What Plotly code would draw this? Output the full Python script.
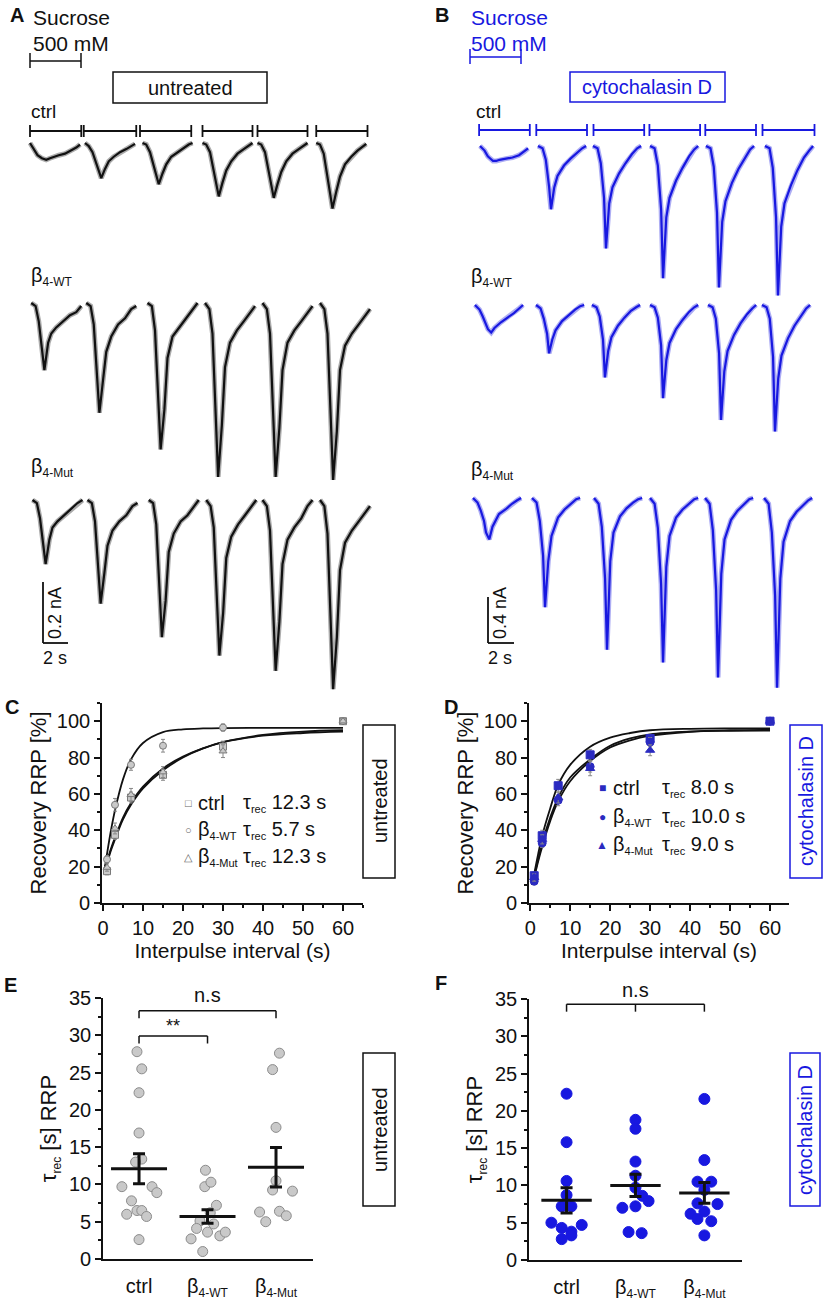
import plotly.graph_objects as go

W, H = 824, 1300
FONT = "Liberation Sans, Arial, sans-serif"
BLACK = "#111111"
BLUE = "#1818e0"
DBLUE = "#2a2ac0"
GRAYF = "#c9c9c9"
GRAYL = "#7a7a7a"

# ---------------------------------------------------------------- data
# Panel A (untreated): sample times inside a sweep (s) and currents (nA)
a_t_ctrl = [0, 0.3, 0.6, 0.95, 1.3, 1.6, 1.9, 2.3, 2.8, 3.3, 3.7, 4.0]
a_t_beta = [0, 0.35, 0.6, 0.85, 1.05, 1.35, 1.6, 2.0, 2.55, 3.1, 3.6, 4.0]
a_start_ctrl = [0.0, 4.4, 9.0, 13.8, 18.2, 22.9]
a_start_wt = [0.1, 4.5, 9.4, 14.0, 18.6, 23.2]
a_start_mut = [0.2, 4.6, 9.5, 14.1, 18.6, 23.2]
a_ctrl = [
    [0.00, -0.02, -0.04, -0.05, -0.055, -0.05, -0.045, -0.04, -0.035, -0.025, -0.015, -0.005],
    [0.00, -0.01, -0.03, -0.07, -0.115, -0.085, -0.06, -0.045, -0.03, -0.02, -0.01, -0.003],
    [0.00, -0.005, -0.03, -0.08, -0.135, -0.10, -0.07, -0.045, -0.03, -0.015, -0.005, 0.00],
    [0.00, -0.005, -0.03, -0.10, -0.175, -0.13, -0.09, -0.06, -0.035, -0.02, -0.01, 0.00],
    [0.00, -0.005, -0.03, -0.10, -0.18, -0.135, -0.095, -0.06, -0.035, -0.02, -0.01, 0.00],
    [0.00, -0.005, -0.035, -0.12, -0.215, -0.16, -0.11, -0.07, -0.045, -0.025, -0.012, -0.003],
]
a_wt = [
    [0.00, -0.01, -0.06, -0.14, -0.22, -0.13, -0.10, -0.08, -0.06, -0.04, -0.03, -0.01],
    [0.00, -0.01, -0.07, -0.22, -0.36, -0.25, -0.16, -0.11, -0.07, -0.05, -0.02, -0.01],
    [0.00, -0.01, -0.09, -0.29, -0.48, -0.35, -0.18, -0.11, -0.08, -0.05, -0.02, 0.00],
    [0.00, -0.02, -0.10, -0.34, -0.57, -0.40, -0.21, -0.13, -0.09, -0.06, -0.03, -0.01],
    [0.00, -0.02, -0.10, -0.34, -0.57, -0.41, -0.22, -0.13, -0.09, -0.06, -0.03, -0.01],
    [0.00, -0.02, -0.10, -0.35, -0.58, -0.42, -0.22, -0.14, -0.10, -0.07, -0.04, -0.02],
]
a_mut = [
    [0.00, -0.01, -0.06, -0.14, -0.21, -0.13, -0.09, -0.07, -0.05, -0.03, -0.01, 0.00],
    [0.00, -0.01, -0.07, -0.21, -0.34, -0.24, -0.15, -0.10, -0.07, -0.05, -0.02, -0.01],
    [0.00, -0.01, -0.08, -0.27, -0.45, -0.33, -0.17, -0.11, -0.07, -0.05, -0.02, 0.00],
    [0.00, -0.02, -0.09, -0.31, -0.51, -0.37, -0.19, -0.12, -0.08, -0.05, -0.02, 0.00],
    [0.00, -0.02, -0.10, -0.34, -0.56, -0.40, -0.21, -0.13, -0.09, -0.06, -0.02, 0.00],
    [0.00, -0.02, -0.11, -0.37, -0.62, -0.45, -0.23, -0.14, -0.10, -0.07, -0.04, -0.02],
]
a_suc_on = [0.0, 4.3, 8.8, 13.8, 18.2, 22.9]
a_suc_off = [4.1, 8.5, 12.9, 17.8, 22.2, 27.0]

# Panel B (cytochalasin D)
b_t = [0, 0.35, 0.6, 0.85, 1.0, 1.25, 1.5, 2.0, 2.5, 3.0, 3.4, 3.7]
b_start_ctrl = [0.77, 5.23, 9.46, 13.85, 18.15, 22.69]
b_start_wt = [0.38, 5.08, 9.38, 13.85, 18.31, 22.46]
b_start_mut = [0.23, 4.77, 9.54, 13.85, 18.08, 22.62]
b_ctrl = [
    [0.00, -0.04, -0.09, -0.12, -0.13, -0.13, -0.12, -0.11, -0.10, -0.08, -0.05, -0.02],
    [0.00, -0.02, -0.12, -0.35, -0.55, -0.36, -0.26, -0.17, -0.11, -0.06, -0.02, 0.00],
    [0.00, -0.02, -0.15, -0.45, -0.89, -0.50, -0.36, -0.24, -0.15, -0.07, -0.02, 0.00],
    [0.00, -0.02, -0.17, -0.55, -1.15, -0.62, -0.45, -0.30, -0.19, -0.09, -0.03, 0.00],
    [0.00, -0.02, -0.18, -0.58, -1.23, -0.66, -0.48, -0.32, -0.20, -0.10, -0.03, 0.00],
    [0.00, -0.02, -0.19, -0.62, -1.30, -0.70, -0.50, -0.34, -0.21, -0.10, -0.04, 0.00],
]
b_wt = [
    [0.00, -0.04, -0.10, -0.17, -0.21, -0.24, -0.20, -0.15, -0.11, -0.07, -0.03, 0.00],
    [0.00, -0.03, -0.12, -0.25, -0.42, -0.30, -0.22, -0.14, -0.09, -0.04, -0.01, 0.00],
    [0.00, -0.02, -0.10, -0.30, -0.63, -0.40, -0.28, -0.18, -0.11, -0.05, -0.02, 0.00],
    [0.00, -0.02, -0.11, -0.35, -0.81, -0.48, -0.33, -0.21, -0.13, -0.06, -0.02, 0.00],
    [0.00, -0.02, -0.12, -0.42, -1.00, -0.58, -0.40, -0.26, -0.16, -0.08, -0.03, 0.00],
    [0.00, -0.02, -0.12, -0.45, -1.10, -0.64, -0.44, -0.29, -0.18, -0.09, -0.03, 0.00],
]
b_mut = [
    [0.00, -0.04, -0.11, -0.20, -0.30, -0.36, -0.25, -0.14, -0.10, -0.05, -0.02, 0.00],
    [0.00, -0.04, -0.20, -0.50, -0.95, -0.55, -0.33, -0.17, -0.10, -0.05, -0.01, 0.00],
    [0.00, -0.05, -0.25, -0.70, -1.32, -0.55, -0.30, -0.16, -0.09, -0.04, -0.01, 0.00],
    [0.00, -0.05, -0.26, -0.75, -1.43, -0.60, -0.33, -0.17, -0.10, -0.05, -0.01, 0.00],
    [0.00, -0.05, -0.28, -0.80, -1.56, -0.66, -0.36, -0.19, -0.11, -0.05, -0.01, 0.00],
    [0.00, -0.05, -0.30, -0.85, -1.65, -0.70, -0.38, -0.20, -0.12, -0.06, -0.02, 0.00],
]
b_suc_on = [0.7, 5.1, 9.5, 13.8, 18.1, 22.5]
b_suc_off = [4.6, 9.0, 13.4, 17.7, 22.0, 26.5]

scale_a_nA, scale_b_nA, scale_s = 0.2, 0.4, 2.0

# Panel C / D : recovery of RRP (%)
ipi = [1, 3, 7, 15, 30, 60]
c_ctrl = [17.5, 37.5, 58, 70.5, 86, 100]
c_ctrl_err = [2, 2.5, 3, 3, 3, 0.8]
c_wt = [24, 54, 76, 86.5, 96.5, 100]
c_wt_err = [2, 3.5, 3, 3.5, 2, 0.8]
c_mut = [19.5, 41, 59.5, 72, 83.5, 100]
c_mut_err = [2, 3, 3.5, 3, 3.5, 0.8]
d_ctrl = [15, 37, 64.5, 81.5, 90.5, 100]
d_ctrl_err = [2, 3, 3.5, 3, 2, 0.8]
d_wt = [12, 33, 56.5, 75, 88.5, 100]
d_wt_err = [2, 2.5, 3, 3, 2.5, 0.8]
d_mut = [14, 35, 58, 74, 84, 100]
d_mut_err = [2, 2.5, 3, 4, 3, 0.8]

fit_t = [0.5, 1, 2, 3, 5, 7, 10, 15, 20, 25, 30, 40, 50, 60]
c_fit_ctrl = [19, 22, 29, 35, 46, 54, 63, 73, 80, 85, 88.5, 92.5, 94.3, 95]
c_fit_wt = [20, 27, 40, 51, 68, 79, 88, 94, 95.5, 96, 96.2, 96.3, 96.3, 96.3]
c_fit_mut = [20, 23, 30, 36, 47, 55, 64, 74, 80.5, 85, 88.5, 92, 93.5, 94.3]
d_fit_ctrl = [10, 16, 27, 37, 52, 65, 76, 86, 91, 93.5, 95, 95.8, 96, 96]
d_fit_wt = [10, 14, 23, 31, 45, 56, 67, 78, 85.5, 89.5, 92, 94.2, 95, 95.3]
d_fit_mut = [10, 15, 24, 33, 47, 58, 69, 79, 86.5, 90.5, 92.8, 94.3, 94.7, 94.8]
c_tau = ["12.3", "5.7", "12.3"]
d_tau = ["8.0", "10.0", "9.0"]

# Panel E / F : tau_rec per cell (s)
SUB = "<span style='font-size:12px'>{}</span>"
SUBS = "<span style='font-size:11px'>{}</span>"
groups = ["ctrl", "β<sub>" + SUB.format("4-WT") + "</sub>", "β<sub>" + SUB.format("4-Mut") + "</sub>"]
e_ctrl = [27.8, 25.5, 22.3, 16.9, 13.4, 13.0, 9.7, 9.7, 8.9, 7.8, 6.0, 6.5, 6.5, 5.7, 2.6]
e_ctrl_jit = [-0.03, 0.04, 0.0, 0.0, 0.04, -0.05, -0.25, 0.19, 0.26, -0.11, -0.18, -0.03, 0.04, 0.11, 0.0]
e_wt = [11.9, 9.7, 10.3, 7.2, 6.2, 5.1, 4.7, 4.1, 3.6, 2.7, 3.1, 3.6, 1.0]
e_wt_jit = [-0.03, -0.04, 0.05, 0.13, 0.04, -0.11, 0.09, -0.16, 0.0, -0.24, 0.18, 0.26, -0.07]
e_mut = [27.6, 25.4, 17.65, 10.5, 9.25, 9.1, 6.3, 6.4, 5.8, 5.0]
e_mut_jit = [0.05, -0.05, 0.0, 0.0, -0.05, 0.24, -0.24, 0.05, 0.15, -0.15]
e_mean = [12.1, 5.7, 12.3]
e_sem = [2.0, 0.9, 2.65]
f_ctrl = [22.3, 15.8, 10.6, 8.7, 7.2, 7.2, 5.0, 4.3, 4.7, 3.8, 3.3, 2.8]
f_ctrl_jit = [0, 0, 0, 0, -0.07, 0.07, -0.22, -0.07, 0.22, 0.07, 0.07, -0.07]
f_wt = [18.8, 17.6, 13.2, 11.3, 9.7, 8.6, 7.9, 7.2, 7.0, 3.75, 3.6]
f_wt_jit = [0, 0, 0, 0, 0, 0.1, 0.19, 0, -0.19, -0.1, 0.09]
f_mut = [21.6, 13.4, 10.5, 10.5, 9.4, 7.6, 7.5, 6.2, 6.5, 5.5, 5.2, 3.3]
f_mut_jit = [0, 0, -0.1, 0.1, 0, -0.1, 0.19, -0.2, 0, -0.1, 0.1, 0]
f_mean = [8.0, 10.0, 9.0]
f_sem = [1.7, 1.5, 1.4]

# ---------------------------------------------------------------- helpers
def px(x):
    return x / W


def py(y):
    return 1 - y / H


def xn(n):
    return "x" if n == 1 else f"x{n}"


def yn(n):
    return "y" if n == 1 else f"y{n}"


def lk(prefix, n):
    return prefix if n == 1 else f"{prefix}{n}"


fig = go.Figure()
layout = dict(
    template="none",
    width=W, height=H, margin=dict(l=0, r=0, t=0, b=0, pad=0, autoexpand=False),
    paper_bgcolor="white", plot_bgcolor="rgba(0,0,0,0)",
    showlegend=False, font=dict(family=FONT, color=BLACK, size=18),
)
shapes, anns = [], []


def ann(text, x, y, size=20, color=BLACK, xa="center", ya="middle", angle=0):
    anns.append(dict(text=text, x=px(x), y=py(y), xref="paper", yref="paper",
                     showarrow=False, xanchor=xa, yanchor=ya, textangle=angle,
                     font=dict(size=size, color=color, family=FONT)))


def pline(x0, y0, x1, y1, color=BLACK, width=1.5):
    shapes.append(dict(type="line", xref="paper", yref="paper", x0=px(x0), y0=py(y0),
                       x1=px(x1), y1=py(y1), line=dict(color=color, width=width)))


def prect(x0, y0, x1, y1, color=BLACK, width=1.5):
    shapes.append(dict(type="rect", xref="paper", yref="paper", x0=px(x0), y0=py(y1),
                       x1=px(x1), y1=py(y0), line=dict(color=color, width=width)))


# ---------------------------------------------------------------- trace rows
A_T0, A_PPS, A_PPN, A_X = 30, 12.5, 305.0, (15, 400)
B_T0, B_PPS, B_PPN, B_X = 470, 13.0, 115.0, (455, 824)
rows = [
    (A_T0, A_PPS, A_PPN, A_X, a_t_ctrl, a_start_ctrl, a_ctrl, 143, 100, 225, BLACK),
    (A_T0, A_PPS, A_PPN, A_X, a_t_beta, a_start_wt, a_wt, 303, 270, 490, BLACK),
    (A_T0, A_PPS, A_PPN, A_X, a_t_beta, a_start_mut, a_mut, 500, 470, 705, BLACK),
    (B_T0, B_PPS, B_PPN, B_X, b_t, b_start_ctrl, b_ctrl, 146, 100, 310, BLUE),
    (B_T0, B_PPS, B_PPN, B_X, b_t, b_start_wt, b_wt, 305, 280, 460, BLUE),
    (B_T0, B_PPS, B_PPN, B_X, b_t, b_start_mut, b_mut, 498, 470, 705, BLUE),
]
for i, (t0, pps, ppn, xd, grid, starts, sweeps, base, top, bot, col) in enumerate(rows):
    n = i + 1
    layout[lk("xaxis", n)] = dict(domain=[px(xd[0]), px(xd[1])],
                                  range=[(xd[0] - t0) / pps, (xd[1] - t0) / pps],
                                  visible=False, fixedrange=True, anchor=yn(n), automargin=False)
    layout[lk("yaxis", n)] = dict(domain=[py(bot), py(top)],
                                  range=[-(bot - base) / ppn, (base - top) / ppn],
                                  visible=False, fixedrange=True, anchor=xn(n), automargin=False)
    for s0, cur in zip(starts, sweeps):
        xs_ = [s0 + t for t in grid]
        # soft band under the trace to suggest the recording noise
        fig.add_trace(go.Scatter(x=xs_, y=cur, mode="lines", opacity=0.35,
                                 line=dict(color=col, width=5), xaxis=xn(n), yaxis=yn(n),
                                 hoverinfo="skip"))
        fig.add_trace(go.Scatter(x=xs_, y=cur, mode="lines",
                                 line=dict(color=col, width=2.2), xaxis=xn(n), yaxis=yn(n),
                                 hoverinfo="skip"))

# sucrose application bars
for n, ons, offs, ybar, col in [(1, a_suc_on, a_suc_off, 131, BLACK), (4, b_suc_on, b_suc_off, 130, BLUE)]:
    for a, b in zip(ons, offs):
        shapes.append(dict(type="line", xref=xn(n), yref="paper", x0=a, x1=b, y0=py(ybar), y1=py(ybar),
                           line=dict(color=col, width=1.8)))
        for xx in (a, b):
            shapes.append(dict(type="line", xref=xn(n), yref="paper", x0=xx, x1=xx,
                               y0=py(ybar - 6), y1=py(ybar + 6), line=dict(color=col, width=1.8)))

# scale bars (drawn in the bottom row of each panel)
for n, t0, pps, ppn, base, bx, by, amp, col, lbl in [
        (3, A_T0, A_PPS, A_PPN, 500, 43, 643, scale_a_nA, BLACK, "0.2 nA"),
        (6, B_T0, B_PPS, B_PPN, 498, 488, 643, scale_b_nA, BLACK, "0.4 nA")]:
    xs = (bx - t0) / pps
    ys = -(by - base) / ppn
    shapes.append(dict(type="line", xref=xn(n), yref=yn(n), x0=xs, x1=xs, y0=ys, y1=ys + amp,
                       line=dict(color=col, width=1.8)))
    shapes.append(dict(type="line", xref=xn(n), yref=yn(n), x0=xs, x1=xs + scale_s, y0=ys, y1=ys,
                       line=dict(color=col, width=1.8)))
    ann(lbl, bx + 12, by - 30, size=18, angle=-90)
    ann("2 s", bx + 12, by + 15, size=18)

# panel A / B texts
BWT = "β<sub>" + SUB.format("4-WT") + "</sub>"
BMUT = "β<sub>" + SUB.format("4-Mut") + "</sub>"
ann("<b>A</b>", 17, 15, size=20)
ann("Sucrose", 31, 17, size=21, xa="left")
ann("500 mM", 31, 43, size=21, xa="left")
pline(30, 61, 81, 61)
pline(30, 53, 30, 68)
pline(81, 53, 81, 68)
prect(113, 72, 267, 103)
ann("untreated", 190, 88, size=20)
ann("ctrl", 29, 111, size=19, xa="left")
ann(BWT, 29, 276, size=20, xa="left")
ann(BMUT, 29, 467, size=20, xa="left")

ann("<b>B</b>", 442, 15, size=20)
ann("Sucrose", 469, 17, size=21, color=BLUE, xa="left")
ann("500 mM", 469, 43, size=21, color=BLUE, xa="left")
pline(470, 57, 521, 57, color=BLUE)
pline(470, 49, 470, 64, color=BLUE)
pline(521, 49, 521, 64, color=BLUE)
prect(570, 72, 725, 102, color=BLUE)
ann("cytochalasin D", 647, 87, size=20, color=BLUE)
ann("ctrl", 474, 111, size=19, xa="left")
ann(BWT, 469, 278, size=20, xa="left")
ann(BMUT, 469, 470, size=20, xa="left")

# ---------------------------------------------------------------- panels C / D
AX = dict(showline=True, linecolor=BLACK, linewidth=1.6, ticks="outside", ticklen=6, tickwidth=1.5,
          tickcolor=BLACK, showgrid=False, zeroline=False, fixedrange=True, automargin=False,
          tickfont=dict(size=20, family=FONT, color=BLACK))


def rec_axes(n, x0, x1, xr):
    layout[lk("xaxis", n)] = dict(AX, domain=[px(x0), px(x1)], range=xr, anchor=yn(n),
                                  tick0=0, dtick=10,
                                  minor=dict(dtick=5, ticks="outside", ticklen=3, tickcolor=BLACK),
                                  title=dict(text="Interpulse interval (s)", standoff=1,
                                             font=dict(size=21, family=FONT, color=BLACK)))
    layout[lk("yaxis", n)] = dict(AX, domain=[py(903), py(703)], range=[0, 110], anchor=xn(n),
                                  tick0=0, dtick=20,
                                  minor=dict(dtick=10, ticks="outside", ticklen=3, tickcolor=BLACK),
                                  title=dict(text="Recovery RRP [%]", standoff=4,
                                             font=dict(size=22, family=FONT, color=BLACK)))


rec_axes(7, 102, 363, [-0.25, 65])
rec_axes(8, 529, 789, [-0.3, 64.75])

sym = ["square", "circle", "triangle-up"]
for n, ys, es, fits, fill, line, sz in [
        (7, [c_ctrl, c_wt, c_mut], [c_ctrl_err, c_wt_err, c_mut_err], [c_fit_ctrl, c_fit_wt, c_fit_mut],
         GRAYF, GRAYL, 7),
        (8, [d_ctrl, d_wt, d_mut], [d_ctrl_err, d_wt_err, d_mut_err], [d_fit_ctrl, d_fit_wt, d_fit_mut],
         DBLUE, DBLUE, 8)]:
    for f in fits:
        fig.add_trace(go.Scatter(x=fit_t, y=f, mode="lines", line=dict(color=BLACK, width=1.8, shape="spline"),
                                 xaxis=xn(n), yaxis=yn(n), hoverinfo="skip"))
    for k in range(3):
        fig.add_trace(go.Scatter(x=ipi, y=ys[k], mode="markers",
                                 error_y=dict(type="data", array=es[k], color="#888888", thickness=1, width=2),
                                 marker=dict(symbol=sym[k], size=sz, color=fill, line=dict(color=line, width=1)),
                                 xaxis=xn(n), yaxis=yn(n), hoverinfo="skip", cliponaxis=False))

# legends of C and D (text glyph keys + labels)
leg_names = ["ctrl", "β<sub>" + SUBS.format("4-WT") + "</sub>", "β<sub>" + SUBS.format("4-Mut") + "</sub>"]
for k in range(3):
    yy = 803 + 27 * k
    ann(["□", "○", "△"][k], 188, yy, size=11, color="#666666")
    ann(leg_names[k], 196, yy, size=20, xa="left")
    ann(f"τ<sub>{SUBS.format('rec')}</sub> {c_tau[k]} s", 241, yy, size=20, xa="left")
    yy = 788 + 28.5 * k
    ann(["■", "●", "▲"][k], 602, yy, size=12, color=DBLUE)
    ann(leg_names[k], 611, yy, size=20, xa="left")
    ann(f"τ<sub>{SUBS.format('rec')}</sub> {d_tau[k]} s", 660, yy, size=20, xa="left")

ann("<b>C</b>", 12, 707, size=20)
ann("<b>D</b>", 451, 707, size=20)
prect(363, 725, 395, 878)
ann("untreated", 380, 801, size=20, angle=-90)
prect(790, 725, 822, 878, color=BLUE)
ann("cytochalasin D", 806, 801, size=20, color=BLUE, angle=-90)

# ---------------------------------------------------------------- panels E / F
def tau_axes(n, x0, x1, xr, top, bot):
    layout[lk("xaxis", n)] = dict(AX, domain=[px(x0), px(x1)], range=xr, anchor=yn(n), ticks="",
                                  tickvals=[0, 1, 2], ticktext=groups, ticklabelstandoff=8,
                                  tickfont=dict(size=20, family=FONT, color=BLACK))
    layout[lk("yaxis", n)] = dict(AX, domain=[py(bot), py(top)], range=[0, 35], anchor=xn(n),
                                  tick0=0, dtick=5,
                                  minor=dict(dtick=2.5, ticks="outside", ticklen=3, tickcolor=BLACK),
                                  title=dict(text="τ<sub>" + SUB.format("rec") + "</sub> [s] RRP", standoff=6,
                                             font=dict(size=22, family=FONT, color=BLACK)))


tau_axes(9, 103, 313, [-0.526, 2.54], 998, 1259)
tau_axes(10, 529, 742, [-0.545, 2.546], 999, 1260)

for n, data, jits, means, sems, fill, line, sz, mw in [
        (9, [e_ctrl, e_wt, e_mut], [e_ctrl_jit, e_wt_jit, e_mut_jit], e_mean, e_sem, GRAYF, "#8c8c8c", 10, 40),
        (10, [f_ctrl, f_wt, f_mut], [f_ctrl_jit, f_wt_jit, f_mut_jit], f_mean, f_sem, BLUE, BLUE, 11, 36)]:
    for k in range(3):
        fig.add_trace(go.Scatter(x=[k + j for j in jits[k]], y=data[k], mode="markers",
                                 marker=dict(size=sz, color=fill, line=dict(color=line, width=1)),
                                 xaxis=xn(n), yaxis=yn(n), hoverinfo="skip", cliponaxis=False))
    fig.add_trace(go.Scatter(x=[0, 1, 2], y=means, mode="markers",
                             marker=dict(symbol="line-ew", size=mw, line=dict(color=BLACK, width=3)),
                             error_y=dict(type="data", array=sems, color=BLACK, thickness=3, width=6),
                             xaxis=xn(n), yaxis=yn(n), hoverinfo="skip"))


def bracket(n, x0, x1, y, leg, mid=False):
    X, Y = xn(n), yn(n)
    shapes.append(dict(type="line", xref=X, yref=Y, x0=x0, x1=x1, y0=y, y1=y, line=dict(color=BLACK, width=1.5)))
    xs = [x0, x1] + ([(x0 + x1) / 2] if mid else [])
    for xx in xs:
        shapes.append(dict(type="line", xref=X, yref=Y, x0=xx, x1=xx, y0=y, y1=y - leg,
                           line=dict(color=BLACK, width=1.5)))


bracket(9, 0, 2, 33.3, 1.0)
bracket(9, 0, 1, 29.9, 1.0)
bracket(10, 0, 2, 34.3, 1.0, mid=True)
anns.append(dict(text="n.s", x=1, y=33.6, xref="x9", yref="y9", showarrow=False, yanchor="bottom",
                 font=dict(size=20, family=FONT, color=BLACK)))
anns.append(dict(text="**", x=0.5, y=29.6, xref="x9", yref="y9", showarrow=False, yanchor="bottom",
                 font=dict(size=18, family=FONT, color=BLACK)))
anns.append(dict(text="n.s", x=1, y=34.5, xref="x10", yref="y10", showarrow=False, yanchor="bottom",
                 font=dict(size=20, family=FONT, color=BLACK)))

ann("<b>E</b>", 10, 985, size=20)
ann("<b>F</b>", 441, 983, size=20)
prect(363, 1053, 395, 1206)
ann("untreated", 380, 1130, size=20, angle=-90)
prect(790, 1053, 820, 1206, color=BLUE)
ann("cytochalasin D", 805, 1130, size=20, color=BLUE, angle=-90)

layout["shapes"] = shapes
layout["annotations"] = anns
fig.update_layout(**layout)
fig.write_html("out.html", config={"displayModeBar": False},
               post_script="document.body.style.margin='0px';document.body.style.overflow='hidden';")
